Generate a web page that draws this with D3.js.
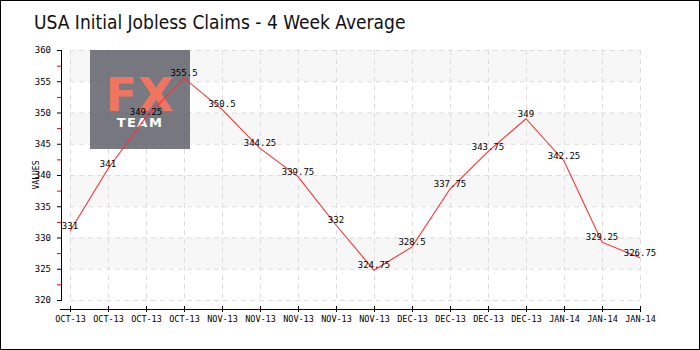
<!DOCTYPE html>
<html>
<head>
<meta charset="utf-8">
<script src="https://cdn.jsdelivr.net/npm/d3@7/dist/d3.min.js"></script>
<style>
  html, body { margin: 0; padding: 0; background: #fff; }
  svg { display: block; }
</style>
</head>
<body>
<svg id="chart" width="700" height="350"></svg>
<script>
// Weekly 4-week average of initial jobless claims (thousands)
const weekLabels = ["OCT-13","OCT-13","OCT-13","OCT-13","NOV-13","NOV-13","NOV-13","NOV-13","NOV-13",
                    "DEC-13","DEC-13","DEC-13","DEC-13","JAN-14","JAN-14","JAN-14"];
const claimValues = [331, 341, 349.25, 355.5, 350.5, 344.25, 339.75, 332, 324.75,
                     328.5, 337.75, 343.75, 349, 342.25, 329.25, 326.75];
const yTicks = [320, 325, 330, 335, 340, 345, 350, 355, 360];
const yMinorTicks = [322.5, 327.5, 332.5, 337.5, 342.5, 347.5, 352.5, 357.5];
const shadedBands = [[355, 360], [345, 350], [335, 340], [325, 330]];

const svg = d3.select("#chart");
const W = 700, H = 350;
const pixelFont = "'DejaVu Sans Mono', monospace";

// frame
svg.append("rect").attr("x", 0.5).attr("y", 0.5).attr("width", W - 1).attr("height", H - 1)
  .attr("fill", "#fff").attr("stroke", "#000");

// title
svg.append("text").attr("x", 34).attr("y", 29)
  .attr("font-family", "'DejaVu Sans Condensed', 'DejaVu Sans', sans-serif")
  .attr("font-size", 19).attr("fill", "#111")
  .text("USA Initial Jobless Claims - 4 Week Average");

const x = d3.scalePoint().domain(d3.range(claimValues.length)).range([70, 640]);
const y = d3.scaleLinear().domain([320, 360]).range([300, 50]);

// alternating bands
svg.append("g").selectAll("rect").data(shadedBands).join("rect")
  .attr("x", 70).attr("width", 570)
  .attr("y", d => y(d[1])).attr("height", d => y(d[0]) - y(d[1]))
  .attr("fill", "#f7f7f7");

// dashed grid
const grid = svg.append("g").attr("stroke", "#dedede").attr("stroke-dasharray", "5,4");
grid.selectAll("line.h").data(yTicks).join("line").attr("class", "h")
  .attr("x1", 70).attr("x2", 640).attr("y1", d => y(d) + 0.5).attr("y2", d => y(d) + 0.5);
grid.selectAll("line.v").data(d3.range(claimValues.length)).join("line").attr("class", "v")
  .attr("x1", d => x(d) + 0.5).attr("x2", d => x(d) + 0.5).attr("y1", 50).attr("y2", 300);

// watermark logo
const logo = svg.append("g");
logo.append("rect").attr("x", 90).attr("y", 50).attr("width", 100).attr("height", 99)
  .attr("fill", "#53535f").attr("opacity", 0.78);
logo.append("text").attr("x", 140).attr("y", 111).attr("text-anchor", "middle")
  .attr("font-family", "'DejaVu Sans', sans-serif").attr("font-weight", "bold").attr("font-size", 46)
  .attr("fill", "#f07560").attr("letter-spacing", 1).text("FX");
logo.append("text").attr("x", 140).attr("y", 127).attr("text-anchor", "middle")
  .attr("font-family", "'DejaVu Sans', sans-serif").attr("font-weight", "bold").attr("font-size", 13)
  .attr("fill", "#fff").attr("letter-spacing", 1.5).text("TEAM");

// y axis
const yAxis = svg.append("g").attr("transform", "translate(61,0)")
  .call(d3.axisLeft(y).tickValues(yTicks).tickSize(4).tickPadding(6).tickFormat(d3.format("d")));
yAxis.select(".domain").attr("stroke", "#000").attr("d", "M0.5," + y(360) + "V" + y(320));
yAxis.selectAll(".tick line").attr("stroke", "#000").attr("x1", 1);
yAxis.selectAll("text").attr("font-family", pixelFont).attr("font-size", 9).attr("fill", "#000");
svg.append("g").selectAll("line").data(yMinorTicks).join("line")
  .attr("x1", 57).attr("x2", 61).attr("y1", d => y(d) + 0.5).attr("y2", d => y(d) + 0.5)
  .attr("stroke", "#e00");

svg.append("text").attr("transform", "translate(39,175) rotate(-90)")
  .attr("text-anchor", "middle").attr("font-family", pixelFont).attr("font-size", 8)
  .attr("fill", "#000").text("VALUES");

// x axis
const xAxis = svg.append("g").attr("transform", "translate(0,309)")
  .call(d3.axisTop(x).tickSize(4).tickFormat(i => weekLabels[i]));
xAxis.select(".domain").attr("d", "M60,0.5H641").attr("stroke", "#000");
xAxis.selectAll(".tick line").attr("stroke", "#000").attr("y1", -3).attr("y2", 3);
xAxis.selectAll("text").attr("font-family", pixelFont).attr("font-size", 8.5)
  .attr("fill", "#000").attr("y", 10).attr("dy", "0.32em");

// line
svg.append("path").datum(claimValues)
  .attr("fill", "none").attr("stroke", "#ff3030").attr("stroke-width", 1.1)
  .attr("d", d3.line().x((d, i) => x(i)).y(d => y(d)));

// value labels
svg.append("g").selectAll("text").data(claimValues).join("text")
  .attr("x", (d, i) => x(i)).attr("y", d => y(d) - 2)
  .attr("text-anchor", "middle").attr("font-family", pixelFont).attr("font-size", 9)
  .attr("fill", "#000").text(d => d);
</script>
</body>
</html>
